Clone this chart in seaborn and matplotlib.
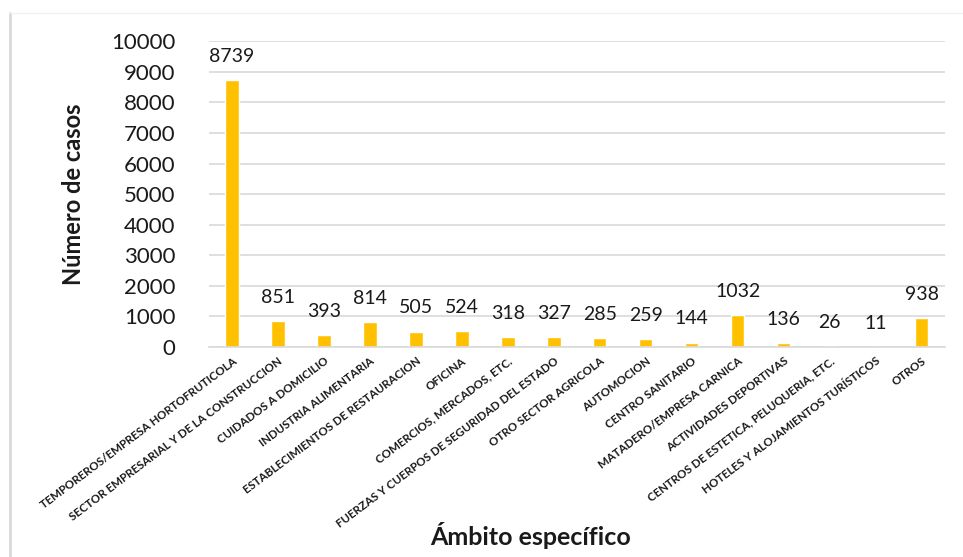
import matplotlib
matplotlib.use('Agg')
import matplotlib.pyplot as plt
import seaborn as sns
import pandas as pd
from matplotlib.lines import Line2D

#categories and number of cases
ambitos = ['TEMPOREROS/EMPRESA HORTOFRUTICOLA',
           'SECTOR EMPRESARIAL Y DE LA CONSTRUCCION',
           'CUIDADOS A DOMICILIO',
           'INDUSTRIA ALIMENTARIA',
           'ESTABLECIMIENTOS DE RESTAURACION',
           'OFICINA',
           'COMERCIOS, MERCADOS, ETC.',
           'FUERZAS Y CUERPOS DE SEGURIDAD DEL ESTADO',
           'OTRO SECTOR AGRICOLA',
           'AUTOMOCION',
           'CENTRO SANITARIO',
           'MATADERO/EMPRESA CARNICA',
           'ACTIVIDADES DEPORTIVAS',
           'CENTROS DE ESTETICA, PELUQUERIA, ETC.',
           'HOTELES Y ALOJAMIENTOS TURÍSTICOS',
           'OTROS']
casos = [8739, 851, 393, 814, 505, 524, 318, 327, 285, 259, 144, 1032, 136, 26, 11, 938]
yticks = [0, 1000, 2000, 3000, 4000, 5000, 6000, 7000, 8000, 9000, 10000]

df = pd.DataFrame({'ambito': ambitos, 'casos': casos})

sns.set_theme(style='white')
plt.rcParams['font.family'] = ['Lato', 'DejaVu Sans']

fig = plt.figure(figsize=(9.63, 5.57), dpi=100)
ax = fig.add_axes([0.217, 0.377, 0.764, 0.549])

sns.barplot(data=df, x='ambito', y='casos', color='#FFC000', saturation=1,
            width=0.29, ax=ax)

ax.set_ylim(0, 10000)
ax.set_xlim(-0.5, len(ambitos) - 0.5)
ax.set_yticks(yticks)
ax.set_yticklabels([str(t) for t in yticks], fontsize=16, color='#1a1a1a')
ax.yaxis.grid(True, color='#D9D9D9', linewidth=1.2)
ax.set_axisbelow(True)
for s in ['top', 'right', 'left']:
    ax.spines[s].set_visible(False)
ax.spines['bottom'].set_color('#D9D9D9')
ax.spines['bottom'].set_linewidth(1.2)
ax.tick_params(axis='y', length=0, pad=24)

ax.set_xticks(range(len(ambitos)))
ax.set_xticklabels(ambitos, rotation=37, ha='right', rotation_mode='anchor',
                   fontsize=8.3, fontweight='bold', color='#1a1a1a')
ax.tick_params(axis='x', length=0, pad=6)

#value labels above bars
for i, v in enumerate(casos):
    ax.annotate(str(v), (i, v), xytext=(0, 17), textcoords='offset points',
                ha='center', va='center', fontsize=14, color='#1a1a1a')

ax.set_ylabel('Número de casos', fontsize=17, fontweight='bold', color='#1a1a1a')
ax.yaxis.set_label_coords(-0.168, 0.5)
ax.set_xlabel('')
fig.text(0.551, 0.038, 'Ámbito específico', ha='center', va='center',
         fontsize=18, fontweight='bold', color='#1a1a1a')

#chart frame (left border and faint top line)
fig.add_artist(Line2D([0.0105, 0.0105], [0.0, 0.977], transform=fig.transFigure,
                      color='#D9D9D9', linewidth=2))
fig.add_artist(Line2D([0.0105, 1.0], [0.977, 0.977], transform=fig.transFigure,
                      color='#F2F2F2', linewidth=1))

fig.savefig('out.png', dpi=100)
